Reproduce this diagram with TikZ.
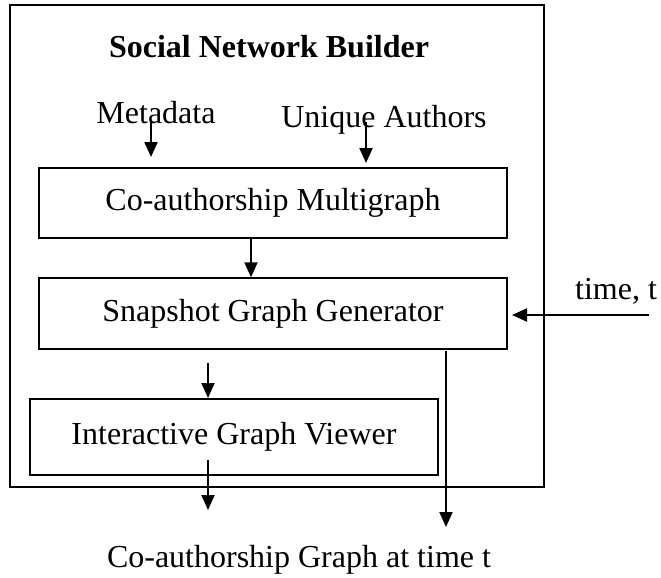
\documentclass[tikz,border=0pt]{standalone}
\usepackage{fontspec}
\setmainfont{Liberation Serif}
\usetikzlibrary{arrows.meta}
\begin{document}
\begin{tikzpicture}[x=1pt,y=-1pt,
  frame/.style={draw, line width=1.5pt, inner sep=0pt},
  box/.style={draw, line width=1.3pt, inner sep=0pt, font=\fontsize{32}{36}\selectfont},
  lbl/.style={inner sep=0pt, font=\fontsize{32}{36}\selectfont, anchor=base},
  arr/.style={line width=2pt, -{Triangle[length=15pt,width=13pt]}}]
\useasboundingbox (0,0) rectangle (661,578);
\node[frame, minimum width=534pt, minimum height=482pt] (outer) at (277,246) {};
\node[lbl, font=\bfseries\fontsize{32}{36}\selectfont] (title) at (269,58) {Social Network Builder};
\node[lbl] (meta) at (156,123) {Metadata};
\node[lbl] (uniq) at (384,127) {Unique Authors};
\node[box, minimum width=468pt, minimum height=70pt] (mg) at (273,203) {Co-authorship Multigraph};
\node[box, minimum width=468pt, minimum height=71pt] (sg) at (273,313.5) {Snapshot Graph Generator};
\node[box, minimum width=408pt, minimum height=76pt] (iv) at (234,437) {Interactive Graph Viewer};
\node[lbl] (time) at (616,299) {time, t};
\node[lbl] (cap) at (299,567) {Co-authorship Graph at time t};
% connector endpoints
\coordinate (m0) at (151,120);
\coordinate (m1) at (151,157);
\coordinate (u0) at (366,122);
\coordinate (u1) at (366,163);
\coordinate (t0) at (649,315);
\coordinate (t1) at (512,315);
\coordinate (s0) at (446,351);
\coordinate (s1) at (446,527);
\coordinate (v0) at (208,363);
\coordinate (v1) at (208,398);
\coordinate (o0) at (208,460);
\coordinate (o1) at (208,510);
\draw[arr] (m0) -- (m1);
\draw[arr] (u0) -- (u1);
\draw[arr] (mg.south -| 251,0) -- (sg.north -| 251,0);
\draw[arr] (t0) -- (t1);
\draw[arr] (s0) -- (s1);
\draw[arr] (v0) -- (v1);
\draw[arr] (o0) -- (o1);
\end{tikzpicture}
\end{document}
